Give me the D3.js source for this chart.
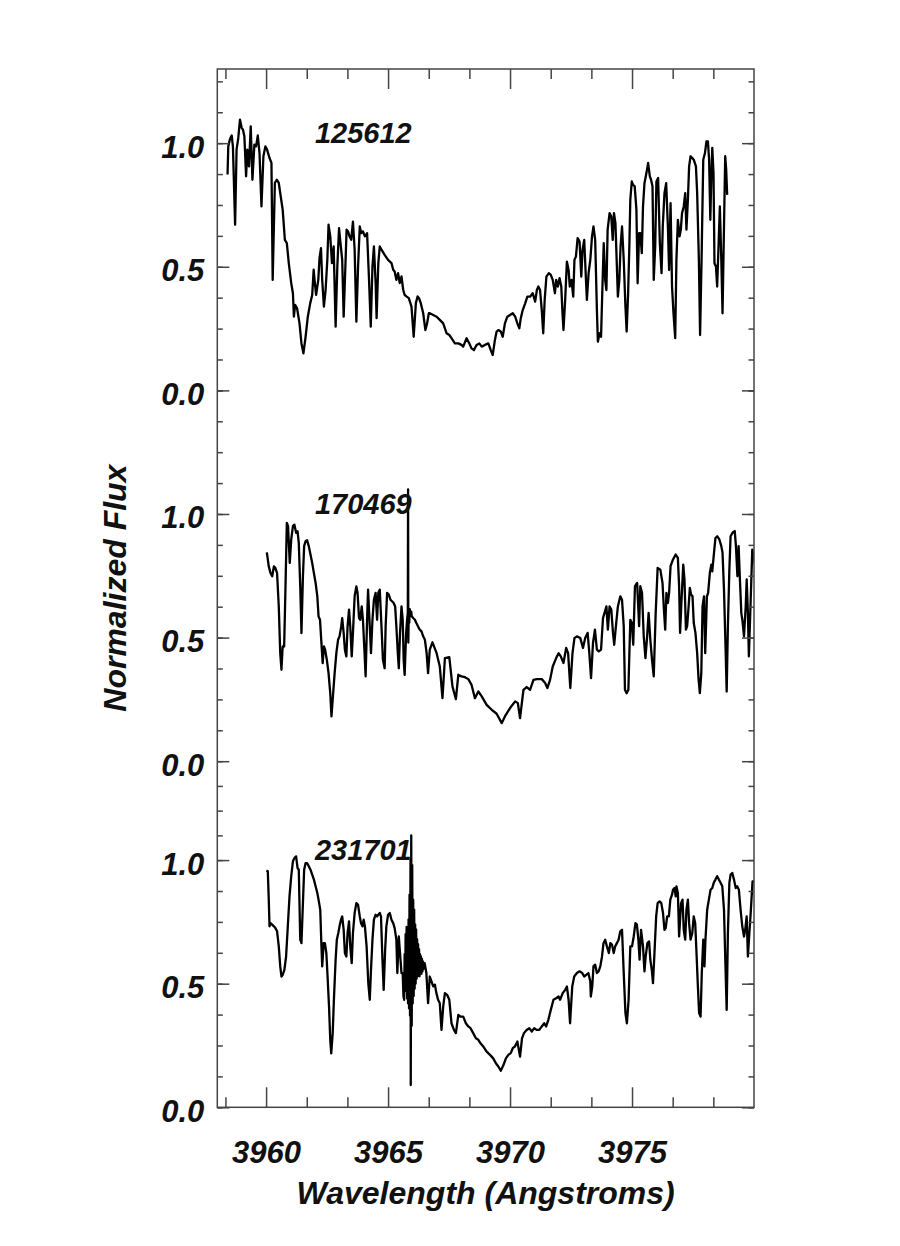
<!DOCTYPE html>
<html>
<head>
<meta charset="utf-8">
<script src="https://cdn.jsdelivr.net/npm/d3@7"></script>
<style>
body { margin: 0; background: #fff; }
text { font-family: "Liberation Sans", Arial, Helvetica, sans-serif; font-weight: bold; font-style: italic; fill: #111; }
</style>
</head>
<body>
<div id="container"></div>
<script>
// star ids and tick labels
const starNames = ["125612", "170469", "231701"];
const xTickValues = [3960, 3965, 3970, 3975];
const yTickLabels = [0.0, 0.5, 1.0];

// spectra: [wavelength (A), normalized flux]
const spec125612 = [
[3958.42,0.873],[3958.45,0.987],[3958.52,1.017],[3958.59,1.031],[3958.64,0.987],[3958.73,0.670],[3958.79,0.974],[3958.86,1.021],
[3958.93,1.095],[3959.00,1.062],[3959.05,1.055],[3959.11,1.028],[3959.18,0.866],[3959.23,0.974],[3959.30,0.906],[3959.37,1.068],
[3959.44,0.852],[3959.52,0.994],[3959.59,0.987],[3959.66,1.031],[3959.73,0.960],[3959.81,0.744],[3959.89,0.947],[3959.97,0.987],
[3960.04,0.974],[3960.14,0.940],[3960.22,0.920],[3960.27,0.447],[3960.36,0.839],[3960.44,0.852],[3960.52,0.839],[3960.62,0.771],
[3960.68,0.731],[3960.77,0.609],[3960.85,0.596],[3960.93,0.515],[3961.03,0.434],[3961.10,0.393],[3961.14,0.298],[3961.19,0.346],
[3961.27,0.332],[3961.37,0.271],[3961.45,0.190],[3961.53,0.150],[3961.62,0.217],[3961.71,0.298],[3961.81,0.353],[3961.89,0.386],
[3961.95,0.488],[3962.00,0.434],[3962.05,0.386],[3962.14,0.447],[3962.19,0.535],[3962.25,0.575],[3962.30,0.447],[3962.37,0.339],
[3962.44,0.407],[3962.51,0.528],[3962.56,0.670],[3962.63,0.623],[3962.70,0.515],[3962.77,0.582],[3962.85,0.258],[3962.92,0.501],
[3962.99,0.656],[3963.05,0.596],[3963.12,0.528],[3963.18,0.298],[3963.25,0.501],[3963.30,0.650],[3963.36,0.643],[3963.42,0.623],
[3963.49,0.609],[3963.56,0.683],[3963.63,0.569],[3963.70,0.278],[3963.77,0.501],[3963.84,0.663],[3963.90,0.636],[3963.97,0.643],
[3964.05,0.623],[3964.14,0.636],[3964.22,0.447],[3964.29,0.258],[3964.36,0.501],[3964.42,0.582],[3964.49,0.434],[3964.53,0.292],
[3964.60,0.515],[3964.66,0.582],[3964.73,0.569],[3964.86,0.548],[3965.00,0.528],[3965.14,0.515],[3965.21,0.488],[3965.27,0.481],
[3965.34,0.447],[3965.41,0.474],[3965.48,0.434],[3965.55,0.461],[3965.62,0.407],[3965.68,0.386],[3965.75,0.380],[3965.85,0.373],
[3965.96,0.339],[3966.05,0.217],[3966.14,0.353],[3966.21,0.380],[3966.27,0.373],[3966.34,0.353],[3966.44,0.312],[3966.53,0.244],
[3966.60,0.271],[3966.67,0.312],[3966.71,0.312],[3966.85,0.305],[3966.99,0.298],[3967.12,0.285],[3967.26,0.271],[3967.40,0.231],
[3967.51,0.224],[3967.60,0.211],[3967.74,0.190],[3967.88,0.190],[3968.01,0.184],[3968.08,0.177],[3968.22,0.211],[3968.33,0.190],
[3968.42,0.170],[3968.52,0.163],[3968.63,0.184],[3968.74,0.190],[3968.84,0.177],[3968.97,0.184],[3969.11,0.190],[3969.21,0.163],
[3969.29,0.143],[3969.38,0.204],[3969.45,0.238],[3969.52,0.244],[3969.62,0.238],[3969.70,0.217],[3969.79,0.271],[3969.89,0.298],
[3970.00,0.305],[3970.11,0.312],[3970.21,0.298],[3970.30,0.271],[3970.38,0.251],[3970.44,0.292],[3970.52,0.325],[3970.62,0.352],
[3970.71,0.379],[3970.82,0.379],[3970.93,0.393],[3971.03,0.359],[3971.10,0.406],[3971.16,0.420],[3971.23,0.406],[3971.30,0.325],
[3971.36,0.231],[3971.42,0.366],[3971.49,0.460],[3971.59,0.474],[3971.67,0.467],[3971.75,0.447],[3971.84,0.393],[3971.89,0.447],
[3971.96,0.420],[3972.03,0.454],[3972.10,0.420],[3972.15,0.312],[3972.19,0.244],[3972.26,0.366],[3972.33,0.521],[3972.40,0.487],
[3972.45,0.420],[3972.52,0.447],[3972.59,0.379],[3972.64,0.528],[3972.70,0.541],[3972.77,0.616],[3972.85,0.602],[3972.92,0.460],
[3972.97,0.568],[3973.04,0.609],[3973.10,0.474],[3973.15,0.366],[3973.22,0.474],[3973.29,0.528],[3973.36,0.623],[3973.42,0.663],
[3973.49,0.609],[3973.56,0.325],[3973.60,0.197],[3973.67,0.231],[3973.73,0.217],[3973.78,0.393],[3973.84,0.596],[3973.90,0.447],
[3973.95,0.406],[3974.00,0.650],[3974.08,0.717],[3974.15,0.703],[3974.21,0.609],[3974.26,0.717],[3974.32,0.677],[3974.37,0.528],
[3974.42,0.379],[3974.48,0.447],[3974.53,0.582],[3974.59,0.663],[3974.66,0.528],[3974.73,0.339],[3974.78,0.238],[3974.84,0.393],
[3974.89,0.582],[3974.93,0.771],[3974.99,0.845],[3975.04,0.832],[3975.11,0.825],[3975.18,0.731],[3975.23,0.433],[3975.29,0.636],
[3975.34,0.636],[3975.40,0.555],[3975.45,0.744],[3975.51,0.838],[3975.59,0.879],[3975.66,0.920],[3975.73,0.866],[3975.78,0.852],
[3975.84,0.825],[3975.89,0.447],[3975.95,0.582],[3976.00,0.845],[3976.07,0.859],[3976.14,0.596],[3976.21,0.474],[3976.26,0.663],
[3976.33,0.798],[3976.40,0.838],[3976.47,0.663],[3976.52,0.487],[3976.58,0.757],[3976.64,0.420],[3976.70,0.312],[3976.77,0.211],
[3976.82,0.528],[3976.88,0.690],[3976.95,0.623],[3977.00,0.650],[3977.05,0.717],[3977.12,0.744],[3977.18,0.798],[3977.23,0.650],
[3977.29,0.771],[3977.34,0.906],[3977.40,0.947],[3977.47,0.940],[3977.53,0.933],[3977.62,0.906],[3977.67,0.798],[3977.74,0.528],
[3977.79,0.224],[3977.85,0.528],[3977.92,0.933],[3977.99,0.960],[3978.05,1.007],[3978.11,1.007],[3978.16,0.933],[3978.21,0.690],
[3978.25,0.866],[3978.29,0.981],[3978.34,0.879],[3978.38,0.514],[3978.44,0.501],[3978.49,0.420],[3978.55,0.596],[3978.60,0.744],
[3978.66,0.528],[3978.71,0.312],[3978.77,0.663],[3978.82,0.947],[3978.86,0.893],[3978.90,0.791]
];

const spec170469 = [
[3960.03,0.845],[3960.11,0.788],[3960.18,0.761],[3960.25,0.748],[3960.32,0.788],[3960.38,0.782],[3960.45,0.761],[3960.52,0.626],
[3960.58,0.437],[3960.63,0.370],[3960.68,0.464],[3960.74,0.464],[3960.79,0.681],[3960.85,0.964],[3960.90,0.951],[3960.97,0.802],
[3961.03,0.896],[3961.10,0.951],[3961.16,0.957],[3961.23,0.924],[3961.29,0.930],[3961.34,0.883],[3961.40,0.707],[3961.45,0.518],
[3961.51,0.748],[3961.56,0.870],[3961.62,0.890],[3961.68,0.894],[3961.75,0.870],[3961.82,0.836],[3961.89,0.802],[3961.96,0.761],
[3962.03,0.721],[3962.10,0.667],[3962.15,0.586],[3962.21,0.572],[3962.26,0.491],[3962.32,0.397],[3962.37,0.464],[3962.42,0.451],
[3962.49,0.410],[3962.56,0.356],[3962.63,0.275],[3962.68,0.181],[3962.74,0.262],[3962.81,0.356],[3962.88,0.437],[3962.95,0.491],
[3963.01,0.505],[3963.08,0.545],[3963.12,0.579],[3963.18,0.518],[3963.23,0.451],[3963.29,0.424],[3963.34,0.545],[3963.40,0.613],
[3963.45,0.545],[3963.51,0.424],[3963.56,0.518],[3963.63,0.667],[3963.70,0.707],[3963.75,0.681],[3963.81,0.579],[3963.86,0.572],
[3963.92,0.626],[3963.97,0.572],[3964.03,0.451],[3964.08,0.343],[3964.14,0.572],[3964.18,0.694],[3964.25,0.545],[3964.30,0.437],
[3964.36,0.572],[3964.42,0.653],[3964.49,0.681],[3964.55,0.572],[3964.60,0.681],[3964.66,0.694],[3964.73,0.545],[3964.79,0.410],
[3964.86,0.376],[3964.90,0.545],[3964.96,0.681],[3965.03,0.674],[3965.10,0.653],[3965.16,0.647],[3965.23,0.640],[3965.29,0.626],
[3965.34,0.545],[3965.40,0.437],[3965.44,0.376],[3965.49,0.518],[3965.55,0.626],[3965.60,0.572],[3965.64,0.410],[3965.68,0.349],
[3965.74,0.518],[3965.78,0.572],[3965.81,0.600],[3965.82,1.099],[3965.83,0.480],[3965.85,0.610],[3965.87,0.560],[3965.89,0.615],
[3965.92,0.590],[3965.95,0.605],[3965.97,0.586],[3966.03,0.579],[3966.10,0.572],[3966.16,0.559],[3966.23,0.545],[3966.30,0.532],
[3966.37,0.525],[3966.44,0.505],[3966.51,0.491],[3966.58,0.437],[3966.64,0.356],[3966.71,0.451],[3966.82,0.481],[3966.99,0.437],
[3967.12,0.383],[3967.23,0.255],[3967.33,0.417],[3967.51,0.421],[3967.64,0.302],[3967.78,0.251],[3967.88,0.350],[3968.01,0.343],
[3968.15,0.340],[3968.29,0.332],[3968.42,0.309],[3968.56,0.255],[3968.70,0.282],[3968.84,0.262],[3969.04,0.228],[3969.25,0.208],
[3969.45,0.192],[3969.66,0.154],[3969.79,0.181],[3970.00,0.215],[3970.21,0.242],[3970.32,0.235],[3970.41,0.174],[3970.55,0.289],
[3970.68,0.300],[3970.82,0.289],[3970.96,0.329],[3971.10,0.332],[3971.30,0.332],[3971.44,0.316],[3971.53,0.296],[3971.64,0.329],
[3971.75,0.383],[3971.89,0.417],[3971.99,0.437],[3972.08,0.424],[3972.19,0.397],[3972.30,0.458],[3972.38,0.437],[3972.47,0.296],
[3972.56,0.437],[3972.64,0.498],[3972.74,0.505],[3972.88,0.498],[3972.99,0.458],[3973.08,0.498],[3973.18,0.519],[3973.25,0.437],
[3973.32,0.336],[3973.40,0.478],[3973.48,0.532],[3973.56,0.451],[3973.64,0.444],[3973.73,0.451],[3973.81,0.579],[3973.89,0.606],
[3973.95,0.626],[3974.01,0.532],[3974.08,0.626],[3974.15,0.613],[3974.22,0.519],[3974.27,0.471],[3974.34,0.546],[3974.42,0.626],
[3974.52,0.667],[3974.59,0.653],[3974.66,0.546],[3974.71,0.289],[3974.78,0.275],[3974.85,0.289],[3974.93,0.572],[3974.99,0.559],
[3975.05,0.471],[3975.12,0.708],[3975.21,0.721],[3975.29,0.546],[3975.34,0.708],[3975.41,0.681],[3975.48,0.505],[3975.55,0.417],
[3975.62,0.505],[3975.68,0.600],[3975.75,0.492],[3975.82,0.410],[3975.89,0.343],[3975.97,0.600],[3976.05,0.782],[3976.16,0.775],
[3976.25,0.721],[3976.30,0.626],[3976.36,0.532],[3976.41,0.681],[3976.47,0.640],[3976.52,0.681],[3976.58,0.789],[3976.68,0.816],
[3976.79,0.836],[3976.88,0.822],[3976.93,0.708],[3976.97,0.519],[3977.03,0.653],[3977.10,0.795],[3977.15,0.735],[3977.21,0.532],
[3977.26,0.546],[3977.32,0.626],[3977.37,0.701],[3977.42,0.674],[3977.48,0.667],[3977.53,0.559],[3977.60,0.519],[3977.67,0.437],
[3977.73,0.329],[3977.78,0.275],[3977.84,0.356],[3977.89,0.626],[3977.95,0.667],[3978.00,0.437],[3978.07,0.667],[3978.12,0.681],
[3978.19,0.762],[3978.25,0.795],[3978.29,0.768],[3978.36,0.843],[3978.42,0.903],[3978.49,0.910],[3978.58,0.897],[3978.66,0.870],
[3978.71,0.843],[3978.77,0.694],[3978.84,0.437],[3978.88,0.282],[3978.93,0.546],[3978.99,0.775],[3979.04,0.910],[3979.12,0.924],
[3979.21,0.931],[3979.26,0.870],[3979.32,0.748],[3979.37,0.870],[3979.42,0.741],[3979.48,0.600],[3979.53,0.566],[3979.59,0.505],
[3979.66,0.626],[3979.70,0.735],[3979.75,0.600],[3979.79,0.424],[3979.86,0.640],[3979.93,0.856],[3979.99,0.829],[3980.05,0.789]
];

const spec231701 = [
[3960.01,0.957],[3960.07,0.955],[3960.11,0.840],[3960.14,0.732],[3960.18,0.745],[3960.25,0.739],[3960.32,0.732],[3960.38,0.725],
[3960.45,0.712],[3960.52,0.651],[3960.58,0.570],[3960.63,0.529],[3960.68,0.536],[3960.75,0.556],[3960.82,0.610],[3960.89,0.732],
[3960.96,0.853],[3961.03,0.934],[3961.10,0.995],[3961.16,1.008],[3961.23,1.015],[3961.29,0.968],[3961.34,0.961],[3961.40,0.678],
[3961.45,0.664],[3961.51,0.826],[3961.56,0.961],[3961.62,0.988],[3961.68,0.988],[3961.75,0.975],[3961.82,0.961],[3961.89,0.941],
[3961.96,0.921],[3962.03,0.894],[3962.10,0.867],[3962.15,0.840],[3962.22,0.799],[3962.26,0.678],[3962.30,0.570],[3962.36,0.664],
[3962.41,0.664],[3962.47,0.624],[3962.52,0.529],[3962.58,0.408],[3962.63,0.272],[3962.67,0.218],[3962.73,0.300],[3962.78,0.435],
[3962.85,0.597],[3962.90,0.678],[3962.96,0.705],[3963.01,0.732],[3963.07,0.759],[3963.12,0.772],[3963.18,0.718],[3963.23,0.624],
[3963.29,0.610],[3963.34,0.705],[3963.40,0.752],[3963.45,0.651],[3963.51,0.583],[3963.56,0.705],[3963.63,0.786],[3963.70,0.826],
[3963.77,0.819],[3963.84,0.772],[3963.89,0.745],[3963.95,0.732],[3964.00,0.759],[3964.05,0.732],[3964.12,0.651],[3964.19,0.502],
[3964.25,0.435],[3964.30,0.556],[3964.36,0.678],[3964.42,0.759],[3964.49,0.779],[3964.55,0.772],[3964.60,0.779],[3964.66,0.786],
[3964.71,0.772],[3964.77,0.597],[3964.82,0.475],[3964.88,0.637],[3964.93,0.732],[3965.00,0.779],[3965.07,0.786],[3965.14,0.759],
[3965.21,0.745],[3965.27,0.725],[3965.34,0.678],[3965.38,0.543],[3965.44,0.691],[3965.49,0.624],[3965.55,0.543],
[3965.60,0.543],[3965.63,0.450],[3965.66,0.435],[3965.68,0.620],[3965.70,0.470],[3965.72,0.700],[3965.74,0.500],[3965.76,0.730],
[3965.78,0.440],[3965.80,0.680],[3965.82,0.420],[3965.84,0.760],[3965.86,0.400],[3965.88,0.860],[3965.90,0.370],[3965.92,1.000],
[3965.93,0.090],[3965.95,1.100],[3965.97,0.330],[3965.99,0.980],[3966.01,0.420],[3966.03,0.840],[3966.05,0.450],[3966.07,0.800],
[3966.09,0.480],[3966.11,0.740],[3966.13,0.500],[3966.15,0.720],[3966.17,0.520],[3966.19,0.680],[3966.21,0.530],[3966.23,0.660],
[3966.25,0.540],[3966.27,0.640],[3966.29,0.530],[3966.31,0.620],[3966.33,0.550],[3966.35,0.610],[3966.37,0.540],[3966.39,0.600],
[3966.41,0.550],[3966.43,0.590],[3966.45,0.560],[3966.47,0.580],[3966.50,0.583],
[3966.57,0.543],[3966.64,0.421],[3966.71,0.529],[3966.78,0.509],[3966.85,0.489],[3966.92,0.496],[3966.98,0.462],[3967.05,0.435],
[3967.12,0.421],[3967.19,0.313],[3967.26,0.408],[3967.33,0.462],[3967.42,0.455],[3967.51,0.435],[3967.60,0.340],[3967.70,0.313],
[3967.78,0.300],[3967.88,0.374],[3967.97,0.367],[3968.08,0.367],[3968.19,0.340],[3968.29,0.327],[3968.38,0.320],[3968.49,0.300],
[3968.60,0.279],[3968.70,0.273],[3968.79,0.259],[3968.90,0.246],[3969.04,0.225],[3969.18,0.212],[3969.31,0.198],[3969.42,0.178],
[3969.52,0.165],[3969.62,0.148],[3969.73,0.171],[3969.83,0.198],[3969.93,0.212],[3970.03,0.219],[3970.11,0.239],[3970.20,0.246],
[3970.30,0.266],[3970.41,0.205],[3970.49,0.279],[3970.57,0.300],[3970.68,0.313],[3970.79,0.320],[3970.89,0.306],[3970.99,0.320],
[3971.09,0.313],[3971.20,0.313],[3971.30,0.327],[3971.40,0.340],[3971.48,0.327],[3971.57,0.354],[3971.67,0.394],[3971.78,0.435],
[3971.89,0.441],[3971.99,0.448],[3972.05,0.435],[3972.16,0.462],[3972.26,0.475],[3972.33,0.489],[3972.40,0.435],[3972.46,0.340],
[3972.55,0.489],[3972.63,0.529],[3972.74,0.543],[3972.85,0.550],[3972.96,0.543],[3973.04,0.529],[3973.12,0.536],[3973.21,0.543],
[3973.29,0.509],[3973.31,0.448],[3973.37,0.489],[3973.42,0.570],[3973.49,0.577],[3973.56,0.543],[3973.63,0.550],[3973.70,0.570],
[3973.77,0.610],[3973.83,0.664],[3973.90,0.678],[3973.97,0.651],[3974.05,0.624],[3974.11,0.664],[3974.18,0.658],[3974.25,0.624],
[3974.31,0.651],[3974.38,0.664],[3974.45,0.678],[3974.52,0.712],[3974.59,0.718],[3974.66,0.543],[3974.73,0.381],[3974.79,0.340],
[3974.86,0.435],[3974.93,0.651],[3975.00,0.651],[3975.07,0.691],[3975.14,0.745],[3975.20,0.739],[3975.26,0.678],[3975.31,0.597],
[3975.37,0.718],[3975.45,0.651],[3975.51,0.550],[3975.56,0.610],[3975.63,0.664],[3975.70,0.671],[3975.75,0.597],[3975.81,0.556],
[3975.86,0.502],[3975.92,0.624],[3975.99,0.772],[3976.05,0.826],[3976.13,0.833],[3976.20,0.826],[3976.27,0.786],[3976.33,0.718],
[3976.38,0.725],[3976.44,0.772],[3976.51,0.772],[3976.57,0.840],[3976.64,0.860],[3976.68,0.880],[3976.74,0.887],[3976.79,0.853],
[3976.82,0.894],[3976.88,0.867],[3976.93,0.691],[3976.97,0.759],[3977.01,0.826],[3977.07,0.840],[3977.12,0.718],[3977.18,0.678],
[3977.23,0.799],[3977.29,0.840],[3977.34,0.745],[3977.40,0.678],[3977.47,0.705],[3977.53,0.772],[3977.59,0.745],[3977.64,0.631],
[3977.70,0.489],[3977.75,0.381],[3977.81,0.367],[3977.86,0.543],[3977.92,0.678],[3977.97,0.570],[3978.01,0.678],[3978.08,0.799],
[3978.15,0.840],[3978.22,0.880],[3978.29,0.887],[3978.35,0.908],[3978.42,0.921],[3978.49,0.935],[3978.56,0.921],[3978.63,0.908],
[3978.70,0.894],[3978.77,0.799],[3978.82,0.610],[3978.88,0.394],[3978.93,0.705],[3978.99,0.908],[3979.04,0.941],[3979.11,0.948],
[3979.18,0.921],[3979.25,0.887],[3979.31,0.894],[3979.38,0.880],[3979.45,0.799],[3979.52,0.732],[3979.59,0.691],[3979.64,0.718],
[3979.70,0.772],[3979.75,0.610],[3979.81,0.705],[3979.86,0.779],[3979.94,0.914],[3980.00,0.914]
];

const spectra = [spec125612, spec170469, spec231701];

// layout
const width = 900, height = 1246;
const frame = {left: 217.3, right: 754, top: 69, bottom: 1107.3};
const panelBase = [2.9, 1.4, 0];   // vertical shift of each spectrum in flux units
const frameColor = "#444";

const svg = d3.select("#container")
    .append("svg")
    .attr("width", width)
    .attr("height", height)
    .style("background", "#fff");

const x = d3.scaleLinear().domain([3958, 3980]).range([frame.left, frame.right]);
const y = d3.scaleLinear().domain([0, 4.2]).range([frame.bottom, frame.top]);

svg.append("defs").append("clipPath")
    .attr("id", "plotclip")
    .append("rect")
    .attr("x", frame.left).attr("y", frame.top)
    .attr("width", frame.right - frame.left)
    .attr("height", frame.bottom - frame.top);

// spectra
spectra.forEach(function (spec, i) {
    const line = d3.line()
        .x(d => x(d[0]))
        .y(d => y(d[1] + panelBase[i]));
    svg.append("path")
        .datum(spec)
        .attr("clip-path", "url(#plotclip)")
        .attr("fill", "none")
        .attr("stroke", "#000")
        .attr("stroke-width", 2.3)
        .attr("stroke-linejoin", "round")
        .attr("d", line);

    svg.append("text")
        .attr("x", x(3962.0))
        .attr("y", y(1.0 + panelBase[i]))
        .style("font-size", "29px")
        .text(starNames[i]);
});

// tick positions
const xMinor = d3.range(-1, 12).filter(k => k % 3 !== 0).map(k => 3960 + k * 5 / 3);
const yMajor = panelBase.slice().reverse().flatMap(b => yTickLabels.map(v => v + b));
const yMinor = [].concat(
    d3.range(0, 8.5).map(k => k * 0.125),
    [1.1, 1.2, 1.3],
    d3.range(0, 12.5).map(k => 1.4 + k * 0.125),
    d3.range(0, 10.5).map(k => 2.9 + k * 0.125)
);

function styleAxis(g) {
    g.select(".domain").remove();
    g.selectAll(".tick line").attr("stroke", frameColor).attr("stroke-width", 1.5);
}

// bottom axis
svg.append("g")
    .attr("transform", "translate(0," + frame.bottom + ")")
    .call(d3.axisBottom(x).tickValues(xMinor).tickSizeInner(-10).tickSizeOuter(0).tickFormat(""))
    .call(styleAxis);
svg.append("g")
    .attr("transform", "translate(0," + frame.bottom + ")")
    .call(d3.axisBottom(x).tickValues(xTickValues).tickSizeInner(-20).tickSizeOuter(0).tickPadding(34).tickFormat(d3.format("d")))
    .call(styleAxis)
    .call(g => g.selectAll("text").attr("fill", "#111").style("font-size", "31px")
        .style("font-family", "'Liberation Sans', Arial, sans-serif"));

// top axis
svg.append("g")
    .attr("transform", "translate(0," + frame.top + ")")
    .call(d3.axisTop(x).tickValues(xMinor).tickSizeInner(-10).tickSizeOuter(0).tickFormat(""))
    .call(styleAxis);
svg.append("g")
    .attr("transform", "translate(0," + frame.top + ")")
    .call(d3.axisTop(x).tickValues(xTickValues).tickSizeInner(-20).tickSizeOuter(0).tickFormat(""))
    .call(styleAxis);

// left axis
const fmt = d3.format(".1f");
svg.append("g")
    .attr("transform", "translate(" + frame.left + ",0)")
    .call(d3.axisLeft(y).tickValues(yMinor).tickSizeInner(-5.5).tickSizeOuter(0).tickFormat(""))
    .call(styleAxis);
svg.append("g")
    .attr("transform", "translate(" + frame.left + ",0)")
    .call(d3.axisLeft(y).tickValues(yMajor).tickSizeInner(-12).tickSizeOuter(0).tickPadding(13)
        .tickFormat((d, i) => fmt(yTickLabels[i % 3])))
    .call(styleAxis)
    .call(g => g.selectAll("text").attr("fill", "#111").attr("dy", "0.45em").style("font-size", "31px")
        .style("font-family", "'Liberation Sans', Arial, sans-serif"));

// right axis
svg.append("g")
    .attr("transform", "translate(" + frame.right + ",0)")
    .call(d3.axisRight(y).tickValues(yMinor).tickSizeInner(-5.5).tickSizeOuter(0).tickFormat(""))
    .call(styleAxis);
svg.append("g")
    .attr("transform", "translate(" + frame.right + ",0)")
    .call(d3.axisRight(y).tickValues(yMajor).tickSizeInner(-12).tickSizeOuter(0).tickFormat(""))
    .call(styleAxis);

// frame
svg.append("rect")
    .attr("x", frame.left).attr("y", frame.top)
    .attr("width", frame.right - frame.left)
    .attr("height", frame.bottom - frame.top)
    .attr("fill", "none")
    .attr("stroke", frameColor)
    .attr("stroke-width", 1.5);

// axis titles
svg.append("text")
    .attr("x", (frame.left + frame.right) / 2)
    .attr("y", 1204)
    .attr("text-anchor", "middle")
    .style("font-size", "32px")
    .text("Wavelength (Angstroms)");

svg.append("text")
    .attr("transform", "translate(126," + ((frame.top + frame.bottom) / 2) + ") rotate(-90)")
    .attr("text-anchor", "middle")
    .style("font-size", "32px")
    .text("Normalized Flux");
</script>
</body>
</html>
